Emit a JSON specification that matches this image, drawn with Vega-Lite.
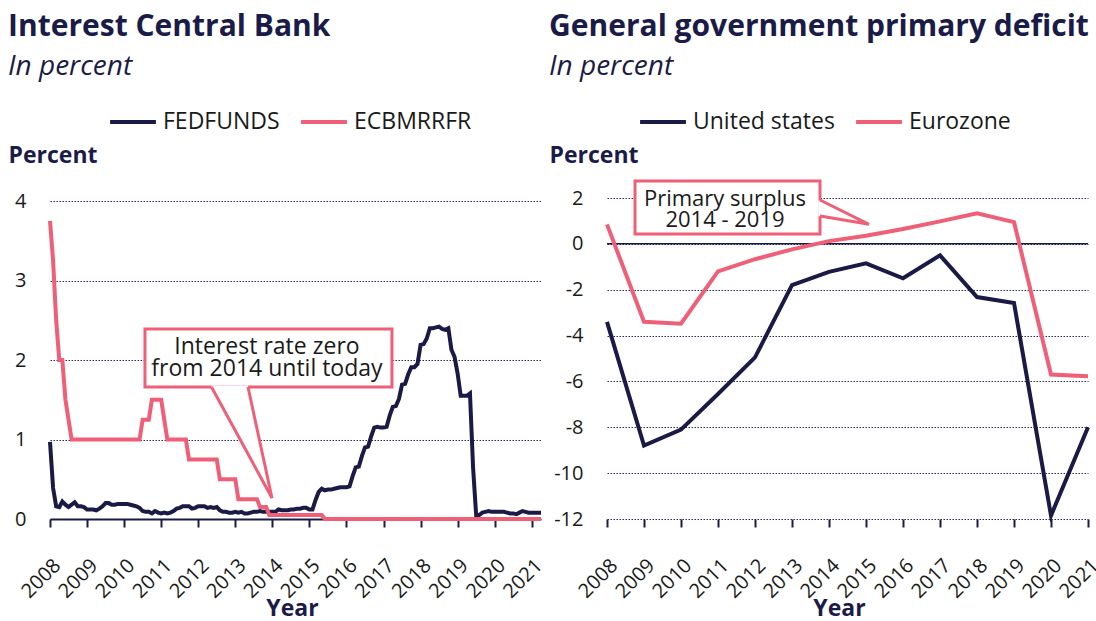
{
  "$schema": "https://vega.github.io/schema/vega-lite/v6.json",
  "background": "white",
  "padding": {"left": 8, "top": 12, "right": 2, "bottom": 0},
  "spacing": 0,
  "resolve": {"scale": {"color": "independent"}, "legend": {"color": "independent"}},
  "config": {
    "font": "Open Sans",
    "view": {"stroke": null},
    "axis": {"labelFontSize": 20, "labelColor": "#1a1a1a", "titleFontSize": 23, "titleFontWeight": "bold", "titleColor": "#1b1b47"},
    "legend": {"orient": "none", "direction": "horizontal", "title": null, "symbolType": "stroke", "symbolSize": 2100, "symbolStrokeWidth": 4, "labelFontSize": 23, "labelColor": "#1a1a1a", "labelOffset": 5, "columnPadding": 13, "legendY": -101}
  },
  "hconcat": [
    {
      "width": 491,
      "height": 321,
      "title": {"text": "Interest Central Bank", "subtitle": "In percent", "anchor": "start", "frame": "group", "dx": -42, "fontSize": 30, "fontWeight": "bold", "color": "#1b1b47", "subtitleFontSize": 28, "subtitleFontStyle": "italic", "subtitleColor": "#1b1b47", "subtitlePadding": 11, "offset": 16},
      "layer": [
        {
          "data": {"values": [
            {"t": 2008.0000, "FEDFUNDS": 0.97, "ECBMRRFR": 3.75},
            {"t": 2008.0833, "FEDFUNDS": 0.39, "ECBMRRFR": 3.25},
            {"t": 2008.1667, "FEDFUNDS": 0.16, "ECBMRRFR": 2.5},
            {"t": 2008.2500, "FEDFUNDS": 0.15, "ECBMRRFR": 2.0},
            {"t": 2008.3333, "FEDFUNDS": 0.22, "ECBMRRFR": 2.0},
            {"t": 2008.4167, "FEDFUNDS": 0.18, "ECBMRRFR": 1.5},
            {"t": 2008.5000, "FEDFUNDS": 0.15, "ECBMRRFR": 1.25},
            {"t": 2008.5833, "FEDFUNDS": 0.18, "ECBMRRFR": 1.0},
            {"t": 2008.6667, "FEDFUNDS": 0.21, "ECBMRRFR": 1.0},
            {"t": 2008.7500, "FEDFUNDS": 0.16, "ECBMRRFR": 1.0},
            {"t": 2008.8333, "FEDFUNDS": 0.16, "ECBMRRFR": 1.0},
            {"t": 2008.9167, "FEDFUNDS": 0.15, "ECBMRRFR": 1.0},
            {"t": 2009.0000, "FEDFUNDS": 0.12, "ECBMRRFR": 1.0},
            {"t": 2009.0833, "FEDFUNDS": 0.12, "ECBMRRFR": 1.0},
            {"t": 2009.1667, "FEDFUNDS": 0.12, "ECBMRRFR": 1.0},
            {"t": 2009.2500, "FEDFUNDS": 0.11, "ECBMRRFR": 1.0},
            {"t": 2009.3333, "FEDFUNDS": 0.13, "ECBMRRFR": 1.0},
            {"t": 2009.4167, "FEDFUNDS": 0.16, "ECBMRRFR": 1.0},
            {"t": 2009.5000, "FEDFUNDS": 0.20, "ECBMRRFR": 1.0},
            {"t": 2009.5833, "FEDFUNDS": 0.20, "ECBMRRFR": 1.0},
            {"t": 2009.6667, "FEDFUNDS": 0.18, "ECBMRRFR": 1.0},
            {"t": 2009.7500, "FEDFUNDS": 0.18, "ECBMRRFR": 1.0},
            {"t": 2009.8333, "FEDFUNDS": 0.19, "ECBMRRFR": 1.0},
            {"t": 2009.9167, "FEDFUNDS": 0.19, "ECBMRRFR": 1.0},
            {"t": 2010.0000, "FEDFUNDS": 0.19, "ECBMRRFR": 1.0},
            {"t": 2010.0833, "FEDFUNDS": 0.19, "ECBMRRFR": 1.0},
            {"t": 2010.1667, "FEDFUNDS": 0.18, "ECBMRRFR": 1.0},
            {"t": 2010.2500, "FEDFUNDS": 0.17, "ECBMRRFR": 1.0},
            {"t": 2010.3333, "FEDFUNDS": 0.16, "ECBMRRFR": 1.0},
            {"t": 2010.4167, "FEDFUNDS": 0.14, "ECBMRRFR": 1.0},
            {"t": 2010.5000, "FEDFUNDS": 0.10, "ECBMRRFR": 1.25},
            {"t": 2010.5833, "FEDFUNDS": 0.09, "ECBMRRFR": 1.25},
            {"t": 2010.6667, "FEDFUNDS": 0.09, "ECBMRRFR": 1.25},
            {"t": 2010.7500, "FEDFUNDS": 0.07, "ECBMRRFR": 1.5},
            {"t": 2010.8333, "FEDFUNDS": 0.10, "ECBMRRFR": 1.5},
            {"t": 2010.9167, "FEDFUNDS": 0.08, "ECBMRRFR": 1.5},
            {"t": 2011.0000, "FEDFUNDS": 0.07, "ECBMRRFR": 1.5},
            {"t": 2011.0833, "FEDFUNDS": 0.08, "ECBMRRFR": 1.25},
            {"t": 2011.1667, "FEDFUNDS": 0.07, "ECBMRRFR": 1.0},
            {"t": 2011.2500, "FEDFUNDS": 0.08, "ECBMRRFR": 1.0},
            {"t": 2011.3333, "FEDFUNDS": 0.10, "ECBMRRFR": 1.0},
            {"t": 2011.4167, "FEDFUNDS": 0.13, "ECBMRRFR": 1.0},
            {"t": 2011.5000, "FEDFUNDS": 0.14, "ECBMRRFR": 1.0},
            {"t": 2011.5833, "FEDFUNDS": 0.16, "ECBMRRFR": 1.0},
            {"t": 2011.6667, "FEDFUNDS": 0.16, "ECBMRRFR": 1.0},
            {"t": 2011.7500, "FEDFUNDS": 0.16, "ECBMRRFR": 0.75},
            {"t": 2011.8333, "FEDFUNDS": 0.13, "ECBMRRFR": 0.75},
            {"t": 2011.9167, "FEDFUNDS": 0.14, "ECBMRRFR": 0.75},
            {"t": 2012.0000, "FEDFUNDS": 0.16, "ECBMRRFR": 0.75},
            {"t": 2012.0833, "FEDFUNDS": 0.16, "ECBMRRFR": 0.75},
            {"t": 2012.1667, "FEDFUNDS": 0.16, "ECBMRRFR": 0.75},
            {"t": 2012.2500, "FEDFUNDS": 0.14, "ECBMRRFR": 0.75},
            {"t": 2012.3333, "FEDFUNDS": 0.15, "ECBMRRFR": 0.75},
            {"t": 2012.4167, "FEDFUNDS": 0.14, "ECBMRRFR": 0.75},
            {"t": 2012.5000, "FEDFUNDS": 0.15, "ECBMRRFR": 0.75},
            {"t": 2012.5833, "FEDFUNDS": 0.11, "ECBMRRFR": 0.5},
            {"t": 2012.6667, "FEDFUNDS": 0.09, "ECBMRRFR": 0.5},
            {"t": 2012.7500, "FEDFUNDS": 0.09, "ECBMRRFR": 0.5},
            {"t": 2012.8333, "FEDFUNDS": 0.08, "ECBMRRFR": 0.5},
            {"t": 2012.9167, "FEDFUNDS": 0.08, "ECBMRRFR": 0.5},
            {"t": 2013.0000, "FEDFUNDS": 0.09, "ECBMRRFR": 0.5},
            {"t": 2013.0833, "FEDFUNDS": 0.08, "ECBMRRFR": 0.25},
            {"t": 2013.1667, "FEDFUNDS": 0.09, "ECBMRRFR": 0.25},
            {"t": 2013.2500, "FEDFUNDS": 0.07, "ECBMRRFR": 0.25},
            {"t": 2013.3333, "FEDFUNDS": 0.07, "ECBMRRFR": 0.25},
            {"t": 2013.4167, "FEDFUNDS": 0.08, "ECBMRRFR": 0.25},
            {"t": 2013.5000, "FEDFUNDS": 0.09, "ECBMRRFR": 0.25},
            {"t": 2013.5833, "FEDFUNDS": 0.09, "ECBMRRFR": 0.25},
            {"t": 2013.6667, "FEDFUNDS": 0.10, "ECBMRRFR": 0.15},
            {"t": 2013.7500, "FEDFUNDS": 0.09, "ECBMRRFR": 0.15},
            {"t": 2013.8333, "FEDFUNDS": 0.09, "ECBMRRFR": 0.15},
            {"t": 2013.9167, "FEDFUNDS": 0.09, "ECBMRRFR": 0.05},
            {"t": 2014.0000, "FEDFUNDS": 0.09, "ECBMRRFR": 0.05},
            {"t": 2014.0833, "FEDFUNDS": 0.09, "ECBMRRFR": 0.05},
            {"t": 2014.1667, "FEDFUNDS": 0.12, "ECBMRRFR": 0.05},
            {"t": 2014.2500, "FEDFUNDS": 0.11, "ECBMRRFR": 0.05},
            {"t": 2014.3333, "FEDFUNDS": 0.11, "ECBMRRFR": 0.05},
            {"t": 2014.4167, "FEDFUNDS": 0.11, "ECBMRRFR": 0.05},
            {"t": 2014.5000, "FEDFUNDS": 0.12, "ECBMRRFR": 0.05},
            {"t": 2014.5833, "FEDFUNDS": 0.12, "ECBMRRFR": 0.05},
            {"t": 2014.6667, "FEDFUNDS": 0.13, "ECBMRRFR": 0.05},
            {"t": 2014.7500, "FEDFUNDS": 0.13, "ECBMRRFR": 0.05},
            {"t": 2014.8333, "FEDFUNDS": 0.14, "ECBMRRFR": 0.05},
            {"t": 2014.9167, "FEDFUNDS": 0.14, "ECBMRRFR": 0.05},
            {"t": 2015.0000, "FEDFUNDS": 0.12, "ECBMRRFR": 0.05},
            {"t": 2015.0833, "FEDFUNDS": 0.12, "ECBMRRFR": 0.05},
            {"t": 2015.1667, "FEDFUNDS": 0.24, "ECBMRRFR": 0.05},
            {"t": 2015.2500, "FEDFUNDS": 0.34, "ECBMRRFR": 0.05},
            {"t": 2015.3333, "FEDFUNDS": 0.38, "ECBMRRFR": 0.05},
            {"t": 2015.4167, "FEDFUNDS": 0.36, "ECBMRRFR": 0.0},
            {"t": 2015.5000, "FEDFUNDS": 0.37, "ECBMRRFR": 0.0},
            {"t": 2015.5833, "FEDFUNDS": 0.37, "ECBMRRFR": 0.0},
            {"t": 2015.6667, "FEDFUNDS": 0.38, "ECBMRRFR": 0.0},
            {"t": 2015.7500, "FEDFUNDS": 0.39, "ECBMRRFR": 0.0},
            {"t": 2015.8333, "FEDFUNDS": 0.40, "ECBMRRFR": 0.0},
            {"t": 2015.9167, "FEDFUNDS": 0.40, "ECBMRRFR": 0.0},
            {"t": 2016.0000, "FEDFUNDS": 0.40, "ECBMRRFR": 0.0},
            {"t": 2016.0833, "FEDFUNDS": 0.41, "ECBMRRFR": 0.0},
            {"t": 2016.1667, "FEDFUNDS": 0.54, "ECBMRRFR": 0.0},
            {"t": 2016.2500, "FEDFUNDS": 0.65, "ECBMRRFR": 0.0},
            {"t": 2016.3333, "FEDFUNDS": 0.66, "ECBMRRFR": 0.0},
            {"t": 2016.4167, "FEDFUNDS": 0.79, "ECBMRRFR": 0.0},
            {"t": 2016.5000, "FEDFUNDS": 0.90, "ECBMRRFR": 0.0},
            {"t": 2016.5833, "FEDFUNDS": 0.91, "ECBMRRFR": 0.0},
            {"t": 2016.6667, "FEDFUNDS": 1.04, "ECBMRRFR": 0.0},
            {"t": 2016.7500, "FEDFUNDS": 1.15, "ECBMRRFR": 0.0},
            {"t": 2016.8333, "FEDFUNDS": 1.16, "ECBMRRFR": 0.0},
            {"t": 2016.9167, "FEDFUNDS": 1.15, "ECBMRRFR": 0.0},
            {"t": 2017.0000, "FEDFUNDS": 1.15, "ECBMRRFR": 0.0},
            {"t": 2017.0833, "FEDFUNDS": 1.16, "ECBMRRFR": 0.0},
            {"t": 2017.1667, "FEDFUNDS": 1.30, "ECBMRRFR": 0.0},
            {"t": 2017.2500, "FEDFUNDS": 1.41, "ECBMRRFR": 0.0},
            {"t": 2017.3333, "FEDFUNDS": 1.42, "ECBMRRFR": 0.0},
            {"t": 2017.4167, "FEDFUNDS": 1.51, "ECBMRRFR": 0.0},
            {"t": 2017.5000, "FEDFUNDS": 1.69, "ECBMRRFR": 0.0},
            {"t": 2017.5833, "FEDFUNDS": 1.70, "ECBMRRFR": 0.0},
            {"t": 2017.6667, "FEDFUNDS": 1.82, "ECBMRRFR": 0.0},
            {"t": 2017.7500, "FEDFUNDS": 1.91, "ECBMRRFR": 0.0},
            {"t": 2017.8333, "FEDFUNDS": 1.91, "ECBMRRFR": 0.0},
            {"t": 2017.9167, "FEDFUNDS": 1.95, "ECBMRRFR": 0.0},
            {"t": 2018.0000, "FEDFUNDS": 2.19, "ECBMRRFR": 0.0},
            {"t": 2018.0833, "FEDFUNDS": 2.20, "ECBMRRFR": 0.0},
            {"t": 2018.1667, "FEDFUNDS": 2.27, "ECBMRRFR": 0.0},
            {"t": 2018.2500, "FEDFUNDS": 2.40, "ECBMRRFR": 0.0},
            {"t": 2018.3333, "FEDFUNDS": 2.40, "ECBMRRFR": 0.0},
            {"t": 2018.4167, "FEDFUNDS": 2.41, "ECBMRRFR": 0.0},
            {"t": 2018.5000, "FEDFUNDS": 2.42, "ECBMRRFR": 0.0},
            {"t": 2018.5833, "FEDFUNDS": 2.39, "ECBMRRFR": 0.0},
            {"t": 2018.6667, "FEDFUNDS": 2.38, "ECBMRRFR": 0.0},
            {"t": 2018.7500, "FEDFUNDS": 2.40, "ECBMRRFR": 0.0},
            {"t": 2018.8333, "FEDFUNDS": 2.13, "ECBMRRFR": 0.0},
            {"t": 2018.9167, "FEDFUNDS": 2.04, "ECBMRRFR": 0.0},
            {"t": 2019.0000, "FEDFUNDS": 1.83, "ECBMRRFR": 0.0},
            {"t": 2019.0833, "FEDFUNDS": 1.55, "ECBMRRFR": 0.0},
            {"t": 2019.1667, "FEDFUNDS": 1.55, "ECBMRRFR": 0.0},
            {"t": 2019.2500, "FEDFUNDS": 1.55, "ECBMRRFR": 0.0},
            {"t": 2019.3333, "FEDFUNDS": 1.58, "ECBMRRFR": 0.0},
            {"t": 2019.4167, "FEDFUNDS": 0.65, "ECBMRRFR": 0.0},
            {"t": 2019.5000, "FEDFUNDS": 0.05, "ECBMRRFR": 0.0},
            {"t": 2019.5833, "FEDFUNDS": 0.05, "ECBMRRFR": 0.0},
            {"t": 2019.6667, "FEDFUNDS": 0.08, "ECBMRRFR": 0.0},
            {"t": 2019.7500, "FEDFUNDS": 0.09, "ECBMRRFR": 0.0},
            {"t": 2019.8333, "FEDFUNDS": 0.10, "ECBMRRFR": 0.0},
            {"t": 2019.9167, "FEDFUNDS": 0.09, "ECBMRRFR": 0.0},
            {"t": 2020.0000, "FEDFUNDS": 0.09, "ECBMRRFR": 0.0},
            {"t": 2020.0833, "FEDFUNDS": 0.09, "ECBMRRFR": 0.0},
            {"t": 2020.1667, "FEDFUNDS": 0.09, "ECBMRRFR": 0.0},
            {"t": 2020.2500, "FEDFUNDS": 0.09, "ECBMRRFR": 0.0},
            {"t": 2020.3333, "FEDFUNDS": 0.08, "ECBMRRFR": 0.0},
            {"t": 2020.4167, "FEDFUNDS": 0.07, "ECBMRRFR": 0.0},
            {"t": 2020.5000, "FEDFUNDS": 0.07, "ECBMRRFR": 0.0},
            {"t": 2020.5833, "FEDFUNDS": 0.06, "ECBMRRFR": 0.0},
            {"t": 2020.6667, "FEDFUNDS": 0.08, "ECBMRRFR": 0.0},
            {"t": 2020.7500, "FEDFUNDS": 0.10, "ECBMRRFR": 0.0},
            {"t": 2020.8333, "FEDFUNDS": 0.09, "ECBMRRFR": 0.0},
            {"t": 2020.9167, "FEDFUNDS": 0.08, "ECBMRRFR": 0.0},
            {"t": 2021.0000, "FEDFUNDS": 0.08, "ECBMRRFR": 0.0},
            {"t": 2021.0833, "FEDFUNDS": 0.08, "ECBMRRFR": 0.0},
            {"t": 2021.1667, "FEDFUNDS": 0.08, "ECBMRRFR": 0.0},
            {"t": 2021.2500, "FEDFUNDS": 0.08, "ECBMRRFR": 0.0}
          ]},
          "transform": [{"fold": ["FEDFUNDS", "ECBMRRFR"], "as": ["series", "value"]}],
          "mark": {"type": "line", "strokeWidth": 4},
          "encoding": {
            "x": {"field": "t", "type": "quantitative", "scale": {"domain": [2008, 2021.25], "nice": false, "zero": false},
              "axis": {"tickCount": 14, "tickMinStep": 1, "format": "d", "labelOverlap": false, "labelSeparation": -20, "labelAngle": -45, "labelAlign": "right", "labelPadding": 28, "tickSize": 8, "tickWidth": 2, "tickColor": "#1b1b47", "domain": true, "domainColor": "#1b1b47", "domainWidth": 2, "grid": false, "title": "Year", "titleX": 242, "titleY": 96, "titleBaseline": "alphabetic"}},
            "y": {"field": "value", "type": "quantitative", "scale": {"domain": [0, 4.038], "nice": false},
              "axis": {"tickCount": 4, "format": "d", "title": "Percent", "titleAngle": 0, "titleAlign": "left", "titleBaseline": "alphabetic", "titleX": -42, "titleY": -36, "ticks": false, "domain": false, "labelPadding": 24, "grid": true, "gridDash": [1.5, 1.5], "gridColor": "#2a2a5c", "gridWidth": 1.2}},
            "color": {"field": "series", "type": "nominal", "scale": {"domain": ["FEDFUNDS", "ECBMRRFR"], "range": ["#1a1a46", "#ef5f78"]}, "legend": {"legendX": 58}}
          }
        },
        {
          "data": {"values": [{"x1": 2010.563, "x2": 2017.228, "y1": 2.39, "y2": 1.66}]},
          "mark": {"type": "rect", "fill": "white", "stroke": "#ef5f78", "strokeWidth": 3},
          "encoding": {"x": {"field": "x1", "type": "quantitative"}, "x2": {"field": "x2"}, "y": {"field": "y1", "type": "quantitative"}, "y2": {"field": "y2"}}
        },
        {
          "data": {"values": [{"x": 2012.358, "top": 1.68, "bot": 1.66}, {"x": 2013.343, "top": 1.68, "bot": 0.818}, {"x": 2013.99, "top": 0.264, "bot": 0.264}]},
          "mark": {"type": "area", "color": "white", "opacity": 1},
          "encoding": {"x": {"field": "x", "type": "quantitative"}, "y": {"field": "top", "type": "quantitative"}, "y2": {"field": "bot"}}
        },
        {
          "data": {"values": [{"x": 2012.358, "y": 1.66, "k": 1}, {"x": 2013.99, "y": 0.264, "k": 2}, {"x": 2013.343, "y": 1.66, "k": 3}]},
          "mark": {"type": "line", "color": "#ef5f78", "strokeWidth": 3},
          "encoding": {"x": {"field": "x", "type": "quantitative"}, "y": {"field": "y", "type": "quantitative"}, "order": {"field": "k"}}
        },
        {
          "data": {"values": [{"x": 2013.855, "y": 2.075, "label": "Interest rate zero\nfrom 2014 until today"}]},
          "mark": {"type": "text", "lineBreak": "\n", "align": "center", "baseline": "alphabetic", "fontSize": 23, "lineHeight": 22, "color": "#1a1a1a"},
          "encoding": {"x": {"field": "x", "type": "quantitative"}, "y": {"field": "y", "type": "quantitative"}, "text": {"field": "label"}}
        }
      ]
    },
    {
      "width": 481,
      "height": 321,
      "title": {"text": "General government primary deficit", "subtitle": "In percent", "anchor": "start", "frame": "group", "dx": -58, "fontSize": 30, "fontWeight": "bold", "color": "#1b1b47", "subtitleFontSize": 28, "subtitleFontStyle": "italic", "subtitleColor": "#1b1b47", "subtitlePadding": 11, "offset": 16},
      "layer": [
        {
          "data": {"values": [{"z": 0}]},
          "mark": {"type": "rule", "color": "#1b1b47", "strokeWidth": 1.5},
          "encoding": {"y": {"field": "z", "type": "quantitative"}}
        },
        {
          "data": {"values": [
            {"year": 2008, "United states": -3.4, "Eurozone": 0.85},
            {"year": 2009, "United states": -8.8, "Eurozone": -3.4},
            {"year": 2010, "United states": -8.1, "Eurozone": -3.48},
            {"year": 2011, "United states": -6.55, "Eurozone": -1.2},
            {"year": 2012, "United states": -4.95, "Eurozone": -0.67},
            {"year": 2013, "United states": -1.8, "Eurozone": -0.24},
            {"year": 2014, "United states": -1.22, "Eurozone": 0.12},
            {"year": 2015, "United states": -0.85, "Eurozone": 0.35},
            {"year": 2016, "United states": -1.5, "Eurozone": 0.65},
            {"year": 2017, "United states": -0.5, "Eurozone": 0.98},
            {"year": 2018, "United states": -2.32, "Eurozone": 1.33},
            {"year": 2019, "United states": -2.58, "Eurozone": 0.95},
            {"year": 2020, "United states": -11.85, "Eurozone": -5.7},
            {"year": 2021, "United states": -8.0, "Eurozone": -5.77}
          ]},
          "transform": [{"fold": ["United states", "Eurozone"], "as": ["series", "value"]}],
          "mark": {"type": "line", "strokeWidth": 4},
          "encoding": {
            "x": {"field": "year", "type": "quantitative", "scale": {"domain": [2008, 2021], "nice": false, "zero": false},
              "axis": {"tickCount": 14, "tickMinStep": 1, "format": "d", "labelOverlap": false, "labelSeparation": -20, "labelAngle": -45, "labelAlign": "right", "labelPadding": 28, "tickSize": 8, "tickWidth": 2, "tickColor": "#1b1b47", "domain": false, "grid": false, "title": "Year", "titleX": 232, "titleY": 96, "titleBaseline": "alphabetic"}},
            "y": {"field": "value", "type": "quantitative", "scale": {"domain": [-12, 2], "nice": false, "zero": false},
              "axis": {"tickCount": 7, "labelExpr": "toString(datum.value)", "title": "Percent", "titleAngle": 0, "titleAlign": "left", "titleBaseline": "alphabetic", "titleX": -58, "titleY": -36, "ticks": false, "domain": false, "labelPadding": 24, "grid": true, "gridDash": [1.5, 1.5], "gridColor": "#2a2a5c", "gridWidth": 1.2}},
            "color": {"field": "series", "type": "nominal", "scale": {"domain": ["United states", "Eurozone"], "range": ["#1a1a46", "#ef5f78"]}, "legend": {"legendX": 31}}
          }
        },
        {
          "data": {"values": [{"x1": 2008.757, "x2": 2013.757, "y1": 2.741, "y2": 0.43}]},
          "mark": {"type": "rect", "fill": "white", "stroke": "#ef5f78", "strokeWidth": 3},
          "encoding": {"x": {"field": "x1", "type": "quantitative"}, "x2": {"field": "x2"}, "y": {"field": "y1", "type": "quantitative"}, "y2": {"field": "y2"}}
        },
        {
          "data": {"values": [{"x": 2013.71, "top": 1.913, "bot": 1.215}, {"x": 2015.081, "top": 0.853, "bot": 0.853}]},
          "mark": {"type": "area", "color": "white", "opacity": 1},
          "encoding": {"x": {"field": "x", "type": "quantitative"}, "y": {"field": "top", "type": "quantitative"}, "y2": {"field": "bot"}}
        },
        {
          "data": {"values": [{"x": 2013.757, "y": 1.913, "k": 1}, {"x": 2015.081, "y": 0.853, "k": 2}, {"x": 2013.757, "y": 1.215, "k": 3}]},
          "mark": {"type": "line", "color": "#ef5f78", "strokeWidth": 3},
          "encoding": {"x": {"field": "x", "type": "quantitative"}, "y": {"field": "y", "type": "quantitative"}, "order": {"field": "k"}}
        },
        {
          "data": {"values": [{"x": 2011.189, "y": 1.651, "label": "Primary surplus\n2014 - 2019"}]},
          "mark": {"type": "text", "lineBreak": "\n", "align": "center", "baseline": "alphabetic", "fontSize": 22, "lineHeight": 21, "color": "#1a1a1a"},
          "encoding": {"x": {"field": "x", "type": "quantitative"}, "y": {"field": "y", "type": "quantitative"}, "text": {"field": "label"}}
        }
      ]
    }
  ]
}
